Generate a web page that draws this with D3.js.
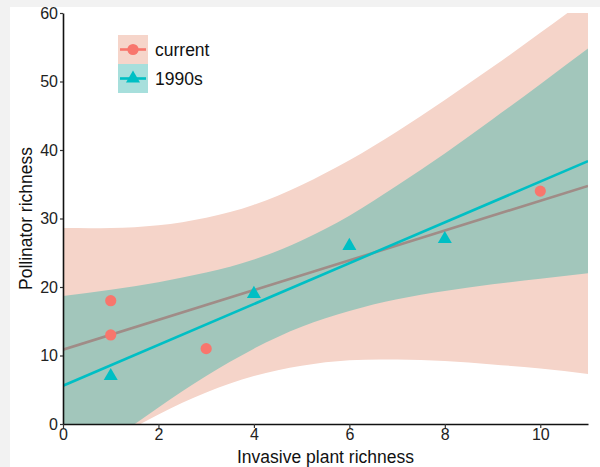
<!DOCTYPE html>
<html>
<head>
<meta charset="utf-8">
<script src="https://cdn.jsdelivr.net/npm/d3@7"></script>
<style>
  body { margin: 0; background: #f2f2f2; }
  svg { display: block; font-family: "Liberation Sans", Arial, sans-serif; }
</style>
</head>
<body>
<svg width="600" height="467" id="mainsvg"></svg>
<script>
// observed points
const curX = [1, 1, 3, 10];
const curY = [18, 13, 11, 34];
const oldX = [1, 4, 6, 8];
const oldY = [7, 19, 26, 27];

// fitted lines and 95% bands, read at x = 0..11
const bandX = [0, 1, 2, 3, 4, 5, 6, 7, 8, 9, 10, 11];
const curLo = [-6.9, -2.5, 1.4, 4.6, 7.0, 8.5, 9.3, 9.4, 9.2, 8.7, 8.1, 7.3];
const curHi = [28.6, 28.6, 29.0, 30.1, 32.0, 34.9, 38.5, 42.7, 47.3, 52.1, 57.1, 62.2];
const oldLo = [-7.5, -2.5, 2.4, 7.0, 11.0, 14.2, 16.5, 18.2, 19.4, 20.4, 21.2, 22.0];
const oldHi = [18.7, 19.6, 20.7, 22.1, 24.0, 26.8, 30.4, 34.8, 39.5, 44.5, 49.6, 54.8];
const curFit = [10.85, 34.76];   // at x = 0 and 11
const oldFit = [5.59, 38.38];

const xTicks = [0, 2, 4, 6, 8, 10];
const yTicks = [0, 10, 20, 30, 40, 50, 60];
const groups = ['current', '1990s'];

const svg = d3.select('svg');
svg.append('rect').attr('x', 10).attr('y', 7).attr('width', 590).attr('height', 460).attr('fill', '#fff');

const x = d3.scaleLinear().domain([0, 11]).range([63, 588]);
const y = d3.scaleLinear().domain([0, 60]).range([424, 13]);

svg.append('clipPath').attr('id', 'plotclip')
  .append('rect').attr('x', x(0)).attr('y', y(60))
  .attr('width', x(11) - x(0)).attr('height', y(0) - y(60));

const g = svg.append('g').attr('clip-path', 'url(#plotclip)');

const band = (lo, hi) => d3.area()
  .x((d, i) => x(bandX[i]))
  .y0((d, i) => y(lo[i]))
  .y1((d, i) => y(hi[i]))
  .curve(d3.curveNatural)(bandX);

const fitLine = f => d3.line()([[x(0), y(f[0])], [x(11), y(f[1])]]);

g.append('path').attr('d', band(curLo, curHi)).attr('fill', '#f5d4c9');
g.append('path').attr('d', band(oldLo, oldHi)).attr('fill', '#a2c6bb');
g.append('path').attr('d', fitLine(curFit)).attr('stroke', '#a08c87').attr('stroke-width', 2.6).attr('fill', 'none');
g.append('path').attr('d', fitLine(oldFit)).attr('stroke', '#00bfc4').attr('stroke-width', 2.6).attr('fill', 'none');

const tri = d3.symbol().type(d3.symbolTriangle).size(85);

svg.selectAll('.cur').data(curX).join('circle').attr('class', 'cur')
  .attr('cx', d => x(d)).attr('cy', (d, i) => y(curY[i])).attr('r', 5.6).attr('fill', '#f8766d');

svg.selectAll('.old').data(oldX).join('path').attr('class', 'old')
  .attr('transform', (d, i) => `translate(${x(d)},${y(oldY[i])})`)
  .attr('d', tri).attr('fill', '#00bfc4');

// axes
const yAxis = d3.axisLeft(y).tickValues(yTicks).tickSize(3).tickSizeOuter(0).tickPadding(2);
const xAxis = d3.axisBottom(x).tickValues(xTicks).tickSize(4).tickSizeOuter(0).tickPadding(1);

const ya = svg.append('g').attr('transform', `translate(${x(0)},0)`).call(yAxis);
const xa = svg.append('g').attr('transform', `translate(0,${y(0)})`).call(xAxis);
[ya, xa].forEach(a => {
  a.select('.domain').attr('stroke', '#111').attr('stroke-width', 1.6);
  a.selectAll('.tick line').attr('stroke', '#333').attr('stroke-width', 1.2);
  a.selectAll('.tick text').attr('fill', '#222').style('font-size', '16px');
});

svg.append('text').attr('x', (x(0) + x(11)) / 2).attr('y', 463)
  .attr('text-anchor', 'middle').style('font-size', '17.5px').attr('fill', '#111')
  .text('Invasive plant richness');
svg.append('text').attr('transform', `translate(32,${(y(0) + y(60)) / 2}) rotate(-90)`)
  .attr('text-anchor', 'middle').style('font-size', '17.5px').attr('fill', '#111')
  .text('Pollinator richness');

// legend
const leg = svg.append('g').attr('transform', 'translate(118,35)');
const keyFill = ['#f6d5ca', '#a7dfdc'];
const keyCol = ['#f8766d', '#00bfc4'];
groups.forEach((k, i) => {
  const row = leg.append('g').attr('transform', `translate(0,${i * 29})`);
  row.append('rect').attr('width', 30).attr('height', 29).attr('fill', keyFill[i]);
  row.append('line').attr('x1', 2).attr('x2', 28).attr('y1', 14.5).attr('y2', 14.5)
    .attr('stroke', keyCol[i]).attr('stroke-width', 2.6);
  if (i === 0) {
    row.append('circle').attr('cx', 15).attr('cy', 14.5).attr('r', 5.6).attr('fill', keyCol[i]);
  } else {
    row.append('path').attr('transform', 'translate(15,14.5)').attr('d', tri).attr('fill', keyCol[i]);
  }
  row.append('text').attr('x', 37).attr('y', 14.5).attr('dy', '0.35em')
    .style('font-size', '17.5px').attr('fill', '#111').text(k);
});
</script>
</body>
</html>
